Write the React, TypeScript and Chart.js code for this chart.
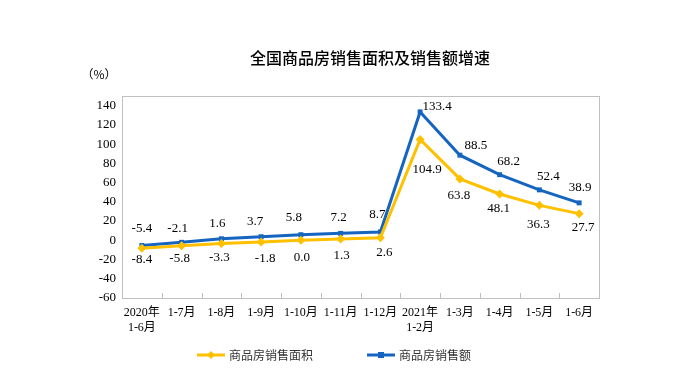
import React, { useEffect, useRef } from "react";
import { Chart, registerables } from "chart.js";

Chart.register(...registerables);

const TITLE = "全国商品房销售面积及销售额增速";
const UNIT = "（%）";
const CATEGORIES: (string | string[])[] = [
  ["2020年", "1-6月"], "1-7月", "1-8月", "1-9月", "1-10月", "1-11月", "1-12月",
  ["2021年", "1-2月"], "1-3月", "1-4月", "1-5月", "1-6月",
];
const AREA_NAME = "商品房销售面积";
const SALES_NAME = "商品房销售额";
const AREA_VALUES = [-8.4, -5.8, -3.3, -1.8, 0.0, 1.3, 2.6, 104.9, 63.8, 48.1, 36.3, 27.7];
const SALES_VALUES = [-5.4, -2.1, 1.6, 3.7, 5.8, 7.2, 8.7, 133.4, 88.5, 68.2, 52.4, 38.9];
const Y_TICKS = [-60, -40, -20, 0, 20, 40, 60, 80, 100, 120, 140];
const Y_MIN = -60;
const Y_MAX = 150;

const BLUE = "#1565C0";
const YELLOW = "#FFC000";
const SERIF = "'Times New Roman', 'Liberation Serif', 'Noto Sans CJK SC', serif";
const CJK = "'Noto Sans CJK SC', sans-serif";

// label offsets (style only)
const SALES_OFF: [number, number][] = [
  [0, -17], [-4, -14], [-4, -15], [-6, -15], [-7, -17], [-2, -16], [-3, -17],
  [17, -5], [16, -10], [9, -13], [9, -13], [1, -15],
];
const AREA_OFF: [number, number][] = [
  [0, 11], [-2, 13], [-2, 14], [4, 17], [1, 17], [1, 17], [4, 15],
  [7, 30], [-1, 17], [-1, 15], [-1, 19], [4, 14],
];

const decor = {
  id: "decor",
  afterDraw(chart: any) {
    const ctx = chart.ctx;
    const a = chart.chartArea;
    ctx.save();
    ctx.strokeStyle = "#BFBFBF";
    ctx.lineWidth = 1;
    ctx.strokeRect(Math.round(a.left) + 0.5, Math.round(a.top) + 0.5, Math.round(a.right - a.left), Math.round(a.bottom - a.top));
    const n = CATEGORIES.length;
    const w = (a.right - a.left) / n;
    ctx.beginPath();
    for (let i = 1; i < n; i++) {
      const x = Math.round(a.left + w * i) + 0.5;
      ctx.moveTo(x, Math.round(a.bottom));
      ctx.lineTo(x, Math.round(a.bottom) - 5);
    }
    ctx.stroke();

    ctx.fillStyle = "#000";
    ctx.textAlign = "center";
    ctx.textBaseline = "middle";
    ctx.font = `500 16px ${CJK}`;
    ctx.fillText(TITLE, 362, 50);
    ctx.font = `12px ${CJK}`;
    ctx.fillText(UNIT, 91, 66);

    ctx.font = `13px ${SERIF}`;
    const m0 = chart.getDatasetMeta(0);
    const m1 = chart.getDatasetMeta(1);
    m0.data.forEach((p: any, i: number) => {
      const [dx, dy] = AREA_OFF[i];
      ctx.fillText(AREA_VALUES[i].toFixed(1), p.x + dx, p.y + dy);
    });
    m1.data.forEach((p: any, i: number) => {
      const [dx, dy] = SALES_OFF[i];
      ctx.fillText(SALES_VALUES[i].toFixed(1), p.x + dx, p.y + dy);
    });

    const ly = 347;
    const drawItem = (x0: number, color: string, name: string, diamond: boolean) => {
      ctx.strokeStyle = color;
      ctx.lineWidth = 3;
      ctx.beginPath();
      ctx.moveTo(x0, ly);
      ctx.lineTo(x0 + 28, ly);
      ctx.stroke();
      ctx.fillStyle = color;
      const cx = x0 + 14;
      if (diamond) {
        ctx.beginPath();
        ctx.moveTo(cx, ly - 4);
        ctx.lineTo(cx + 4, ly);
        ctx.lineTo(cx, ly + 4);
        ctx.lineTo(cx - 4, ly);
        ctx.closePath();
        ctx.fill();
      } else {
        ctx.fillRect(cx - 3, ly - 3, 6, 6);
      }
      ctx.fillStyle = "#333";
      ctx.textAlign = "left";
      ctx.font = `12px ${CJK}`;
      ctx.fillText(name, x0 + 32, ly);
    };
    drawItem(189, YELLOW, AREA_NAME, true);
    drawItem(359, BLUE, SALES_NAME, false);
    ctx.restore();
  },
};

export default function App() {
  const ref = useRef<HTMLCanvasElement>(null);
  useEffect(() => {
    if (!ref.current) return;
    const chart = new Chart(ref.current, {
      type: "line",
      data: {
        labels: CATEGORIES as any,
        datasets: [
          {
            label: AREA_NAME,
            data: AREA_VALUES,
            borderColor: YELLOW,
            backgroundColor: YELLOW,
            borderWidth: 3,
            pointStyle: "rectRot",
            pointRadius: 4.5,
            pointBorderWidth: 0,
            tension: 0,
          },
          {
            label: SALES_NAME,
            data: SALES_VALUES,
            borderColor: BLUE,
            backgroundColor: BLUE,
            borderWidth: 3,
            pointStyle: "rect",
            pointRadius: 3.5,
            pointBorderWidth: 0,
            tension: 0,
          },
        ],
      },
      options: {
        animation: false,
        responsive: false,
        layout: { padding: { left: 0, right: 70, top: 88, bottom: 36 } },
        plugins: {
          legend: { display: false },
          title: { display: false },
          tooltip: { enabled: false },
        },
        scales: {
          x: {
            offset: true,
            grid: { display: false, drawTicks: false, offset: true },
            border: { display: false },
            ticks: {
              color: "#000",
              font: { family: SERIF, size: 12 },
              padding: 8,
              maxRotation: 0,
              autoSkip: false,
            },
            afterFit: (s: any) => { s.height = 40; },
          },
          y: {
            min: Y_MIN,
            max: Y_MAX,
            grid: { display: false, drawTicks: false },
            border: { display: false },
            ticks: {
              color: "#000",
              font: { family: SERIF, size: 13 },
              padding: 6,
              autoSkip: false,
            },
            afterBuildTicks: (axis: any) => {
              axis.ticks = Y_TICKS.map((v) => ({ value: v }));
            },
            afterFit: (s: any) => { s.width = 114; },
          },
        },
      },
      plugins: [decor],
    });
    return () => chart.destroy();
  }, []);
  return <canvas ref={ref} width={661} height={366} style={{ display: "block" }} />;
}
